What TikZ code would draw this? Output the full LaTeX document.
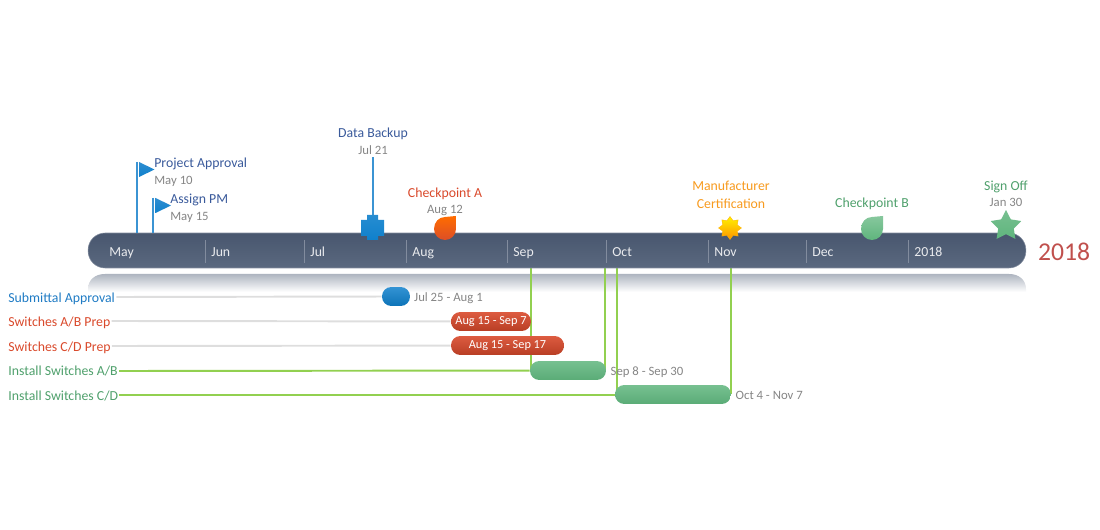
\documentclass[tikz,border=0pt]{standalone}
\usepackage{fontspec}
\setmainfont{Carlito}
\usepackage{xcolor}
\usetikzlibrary{shapes.geometric, positioning, backgrounds}
\definecolor{barcol}{HTML}{4C5B74}
\definecolor{bluecol}{HTML}{1F7BC4}
\definecolor{brightblue}{HTML}{0F80CC}
\definecolor{navycol}{HTML}{3A5A9B}
\definecolor{redcol}{HTML}{D9492B}
\definecolor{orangecol}{HTML}{F79A1E}
\definecolor{greencol}{HTML}{4FA06C}
\definecolor{leafcol}{HTML}{5FB57D}
\definecolor{limecol}{HTML}{92D050}
\definecolor{stemcol}{HTML}{3B94D3}
\definecolor{graytext}{HTML}{858585}
\definecolor{yearcol}{HTML}{C0504D}

\begin{document}
\begin{tikzpicture}[
  x=0.02cm, y=-0.02cm,
  lab/.style={font=\fontsize{7.85}{9.4}\selectfont, inner sep=0pt, text height=5.6pt, text depth=1.8pt},
  datelab/.style={lab, font=\fontsize{7.25}{8.8}\selectfont, text=graytext},
  monthlab/.style={lab, text=white!88!barcol, anchor=west},
  pill/.style={rectangle, rounded corners=0.185cm, inner sep=0pt, minimum height=0.38cm,
               font=\fontsize{7}{8.4}\selectfont, text=white, text height=5pt, text depth=1.6pt},
  bluepill/.style={pill, minimum width=0.56cm, top color=brightblue!85!white, bottom color=brightblue!90!black},
  redpill/.style={pill, top color=redcol!90!white, bottom color=redcol!85!black},
  greenpill/.style={pill, top color=leafcol!85!white, bottom color=leafcol!95!black},
  grayline/.style={draw=black!13, line width=1.1pt},
  limeline/.style={draw=limecol, line width=1.1pt},
  stem/.style={draw=stemcol, line width=1.1pt},
  flagmark/.pic={\path[pic actions] (0,-7.5) -- (15.5,0) -- (0,7.5) -- cycle;},
  dropmark/.pic={\path[pic actions] (11,-13) -- (11,0) .. controls (11,6) and (6,11) .. (0,11)
    .. controls (-6,11) and (-11,6) .. (-11,0) .. controls (-11,-7) and (-6,-12) .. (0,-12) -- cycle;},
  plusmark/.pic={\path[pic actions] (-6,-13) -- (5,-13) -- (5,-8) -- (11,-8) -- (11,8) -- (5,8)
    -- (5,12) -- (-6,12) -- (-6,8) -- (-12,8) -- (-12,-8) -- (-6,-8) -- cycle;},
]
  \useasboundingbox (0,0) rectangle (1100,530);

  % timeline band and the year beside it
  \node[rectangle, rounded corners=0.34cm, minimum width=18.76cm, minimum height=0.7cm, inner sep=0pt,
        top color=barcol!95!black, bottom color=barcol!92!white, draw=barcol!70!white, line width=0.3pt]
        (bar) at (557,250.5) {};
  \node[inner sep=0pt, font=\fontsize{14.6}{16}\selectfont, text=yearcol] (year) at (1064,252) {2018};

  % months
  \foreach \mx/\mname/\mlab in {109/may/May, 211/jun/Jun, 310/jul/Jul, 412/aug/Aug, 513/sep/Sep,
                                612/oct/Oct, 714/nov/Nov, 812/dec/Dec, 914/yr/2018}
    \node[monthlab] (m\mname) at (\mx,253) {\mlab};
  \foreach \mname in {jun, jul, aug, sep, oct, nov, dec, yr}
    \draw[white!30!barcol, line width=0.5pt] (m\mname.west) ++(-6,-13) -- ++(0,23);

  % milestones above the band
  \node[lab, text=navycol, anchor=west] (approval) at (154,164) {Project Approval};
  \node[datelab, below=0.07cm of approval.south west, anchor=north west] (approvaldate) {May 10};
  \node[lab, text=navycol, anchor=west] (assign) at (170,200) {Assign PM};
  \node[datelab, below=0.07cm of assign.south west, anchor=north west] (assigndate) {May 15};
  \node[lab, text=navycol] (backup) at (373,134) {Data Backup};
  \node[datelab, below=0.07cm of backup] (backupdate) {Jul 21};
  \node[lab, text=redcol] (checka) at (445,194) {Checkpoint A};
  \node[datelab, below=0.05cm of checka] (checkadate) {Aug 12};
  \node[lab, text=orangecol] (maker) at (731,187) {Manufacturer};
  \node[lab, text=orangecol, below=0.08cm of maker] (cert) {Certification};
  \node[lab, text=greencol] (checkb) at (872,204) {Checkpoint B};
  \node[lab, text=greencol] (signoff) at (1006,187) {Sign Off};
  \node[datelab, below=0.05cm of signoff] (signoffdate) {Jan 30};

  \coordinate (approvaltop) at (137,162);
  \coordinate (assigntop) at (153,198);
  \draw[stem] (approvaltop) -- (approvaltop |- bar.north);
  \draw[stem] (assigntop) -- (assigntop |- bar.north);
  \draw[stem] (backupdate) ++(0,6) -- ++(0,65);
  \pic[top color=stemcol!70!brightblue, bottom color=brightblue] at (139,169.5) {flagmark};
  \pic[top color=stemcol!70!brightblue, bottom color=brightblue] at (155.5,205.5) {flagmark};
  \pic[top color=brightblue!90!white, bottom color=brightblue] at (373,228) {plusmark};
  \pic[top color=orange!85!red, bottom color=redcol!90!orange] at (445,229) {dropmark};
  \pic[top color=leafcol!75!white, bottom color=leafcol] at (872,229) {dropmark};
  \node[star, star points=8, star point ratio=1.45, minimum size=0.46cm, inner sep=0pt,
        top color=yellow!90!orange, bottom color=orange!85!yellow, draw=orange!60!yellow, line width=0.2pt] (burst) at (730,228) {};
  \node[star, star points=5, star point ratio=1.95, minimum size=0.64cm, inner sep=0pt,
        top color=leafcol!85!white, bottom color=leafcol] (finish) at (1006,226) {};

  % tasks below the band
  \node[bluepill] (submittal) at (396,296.5) {};
  \node[redpill, minimum width=1.6cm] (abprep) at (491,321.5) {Aug 15 - Sep 7};
  \node[redpill, minimum width=2.26cm] (cdprep) at (507.5,345.5) {Aug 15 - Sep 17};
  \node[greenpill, minimum width=1.52cm] (abinstall) at (568,370.5) {};
  \node[greenpill, minimum width=2.32cm] (cdinstall) at (673,394.5) {};

  \node[datelab, right=0.07cm of submittal, yshift=-0.03cm] (subdate) {Jul 25 - Aug 1};
  \node[datelab, right=0.08cm of abinstall, yshift=-0.03cm] (abdate) {Sep 8 - Sep 30};
  \node[datelab, right=0.08cm of cdinstall, yshift=-0.03cm] (cddate) {Oct 4 - Nov 7};

  \node[lab, text=bluecol, anchor=west] (sublab) at (8,299) {Submittal Approval};
  \node[lab, text=redcol, anchor=west] (ablab) at (8,323) {Switches A/B Prep};
  \node[lab, text=redcol, anchor=west] (cdlab) at (8,348) {Switches C/D Prep};
  \node[lab, text=greencol, anchor=west] (abinstlab) at (8,372) {Install Switches A/B};
  \node[lab, text=greencol, anchor=west] (cdinstlab) at (8,397) {Install Switches C/D};

  \coordinate (cdstart) at (617,395);

  \begin{scope}[on background layer]
    % faded reflection of the band
    \path[top color=barcol!45!white, bottom color=white]
      (88,292) -- (88,289) .. controls (88,280) and (95,274) .. (105,274) -- (1009,274)
      .. controls (1019,274) and (1026,280) .. (1026,289) -- (1026,292) -- cycle;
    \draw[grayline] (sublab.east) ++(1,-2) -- (submittal);
    \draw[grayline] (ablab.east) ++(1,-2) -- (abprep);
    \draw[grayline] (cdlab.east) ++(1,-2) -- (cdprep);
    \draw[limeline] (abinstlab.east) ++(1,-1) -- (abinstall);
    \draw[limeline] (cdinstlab.east) ++(1,-2) -- (cdstart);
    \draw[limeline] (abinstall.west -| abprep.east) -- (abprep.east |- bar.south);
    \draw[limeline] (abinstall.east) ++(-1,0) -- ++(0,-103);
    \draw[limeline] (cdstart) -- (cdstart |- bar.south);
    \draw[limeline] (cdinstall.east) -- (cdinstall.east |- bar.south);
  \end{scope}
\end{tikzpicture}
\end{document}
